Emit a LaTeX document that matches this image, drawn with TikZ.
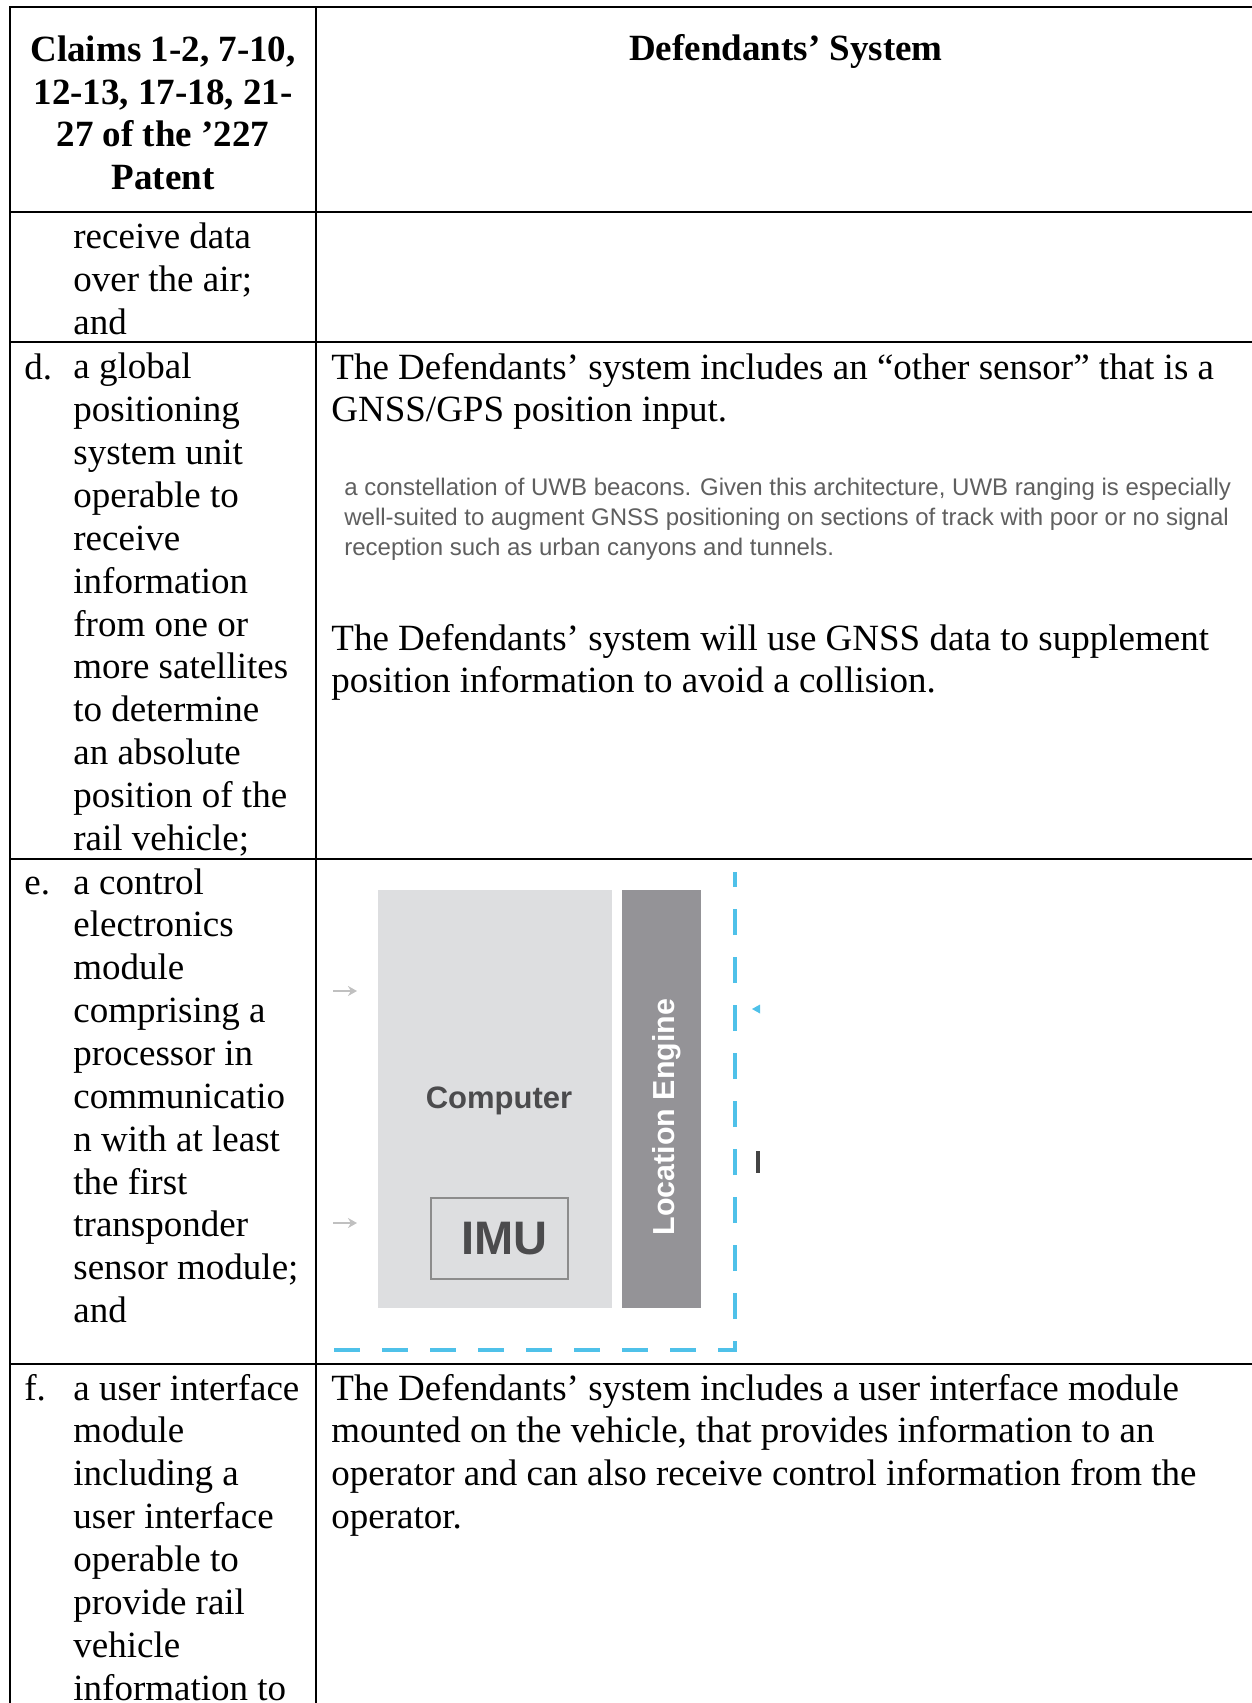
\documentclass[tikz,border=0pt]{standalone}
\usepackage{fontspec}
\setmainfont{Liberation Serif}
\newfontfamily\figfont{Liberation Sans}
\usetikzlibrary{arrows.meta,positioning}

\definecolor{cpugrey}{RGB}{221,222,224}
\definecolor{enginegrey}{RGB}{148,147,151}
\definecolor{imuedge}{RGB}{140,140,140}
\definecolor{figtext}{RGB}{75,75,77}
\definecolor{inarrow}{RGB}{192,192,192}
\definecolor{uwbblue}{RGB}{79,193,233}
\definecolor{shottext}{RGB}{95,95,95}
\definecolor{barink}{RGB}{68,68,68}

\newcommand{\bodysize}{\fontsize{18.5pt}{21.43pt}\selectfont}

\begin{document}
\begin{tikzpicture}[x=0.5pt,y=-0.5pt,
    rule/.style={line width=1.1pt},
    % multi-line nodes: placed at the baseline of their last line
    cell/.style={inner sep=0pt,anchor=base west,align=left,font=\bodysize},
    head/.style={inner sep=0pt,anchor=base,align=center,
      font=\fontsize{18.5pt}{21.2pt}\selectfont\bfseries},
    shot/.style={inner sep=0pt,anchor=base west,align=left,text=shottext,
      font=\figfont\fontsize{12pt}{15pt}\selectfont},
    fig/.style={inner sep=0pt,text=figtext,font=\figfont\bfseries},
    feed/.style={draw=inarrow,line width=1pt,-{Stealth[length=4.5pt,width=5pt]}},
    uwb/.style={draw=uwbblue,line width=2pt,dash pattern=on 13pt off 11pt}]
  \useasboundingbox (0,0) rectangle (1252,1703);

  % table rules
  \foreach \y in {7,212,342,859,1364}
    \draw[rule] (9,\y) -- (1252,\y);
  \draw[rule] (10,7) -- (10,1703);
  \draw[rule] (316,7) -- (316,1703);

  % header
  \node[head] (claimshd) at (163,189) {Claims 1-2, 7-10,\\12-13, 17-18, 21-\\27 of the ’227\\Patent};
  \node[head] (systemhd) at (786,60) {Defendants’ System};

  % element c (end)
  \node[cell] (rowc) at (73,334.7) {receive data\\over the air;\\and};

  % element d
  \node[cell] (labd) at (24,379) {d.};
  \node[cell] (rowd) at (73,850.4) {a global\\positioning\\system unit\\operable to\\receive\\information\\from one or\\more satellites\\to determine\\an absolute\\position of the\\rail vehicle;};
  \node[cell] (sysd) at (331,421.9) {The Defendants’ system includes an “other sensor” that is a\\GNSS/GPS position input.};
  \node[shot] (uwbshot) at (344,555) {a constellation of UWB beacons. Given this architecture, UWB ranging is especially\\well-suited to augment GNSS positioning on sections of track with poor or no signal\\reception such as urban canyons and tunnels.};
  \node[cell] (sysgnss) at (331,692.9) {The Defendants’ system will use GNSS data to supplement\\position information to avoid a collision.};

  % element e
  \node[cell] (labe) at (24,894) {e.};
  \node[cell] (rowe) at (73,1322.6) {a control\\electronics\\module\\comprising a\\processor in\\communicatio\\n with at least\\the first\\transponder\\sensor module;\\and};

  % architecture figure
  \node[fill=cpugrey,minimum width=117pt,minimum height=209pt,inner sep=0pt] (computer) at (495,1099) {};
  \node[fill=enginegrey,minimum width=39.5pt,minimum height=209pt,inner sep=0pt] (engine) at (661.5,1099) {};
  \node[fig,font=\figfont\bfseries\fontsize{15.5pt}{18pt}\selectfont] (cpulabel) at (499,1101) {Computer};
  \node[draw=imuedge,line width=1.3pt,fill=cpugrey,minimum width=68.5pt,minimum height=40.5pt,inner sep=0pt] (imu) at (499.5,1238.5) {};
  \node[fig,font=\figfont\bfseries\fontsize{23.5pt}{26pt}\selectfont] (imulabel) at (504.5,1238.5) {IMU};
  \node[fig,text=white,rotate=90,font=\figfont\bfseries\fontsize{15.2pt}{17pt}\selectfont] (enginelabel) at (667,1117) {Location Engine};

  \coordinate (feedAs) at (333,991);
  \coordinate (feedAe) at (357,991);
  \coordinate (feedBs) at (333,1223);
  \coordinate (feedBe) at (357,1223);
  \draw[feed] (feedAs) -- (feedAe);
  \draw[feed] (feedBs) -- (feedBe);

  \coordinate (uwbleft) at (334,1350);
  \coordinate (uwbcorner) at (735,1350);
  \coordinate (uwbtop) at (735,872);
  \draw[uwb] (uwbleft) -- (uwbcorner) -- (uwbtop);
  \fill[uwbblue] (752,1009) -- (760,1004.5) -- (760,1013.5) -- cycle;
  \draw[barink,line width=1.6pt] (758,1151) -- (758,1173);

  % element f
  \node[cell] (labf) at (24,1400) {f.};
  \node[cell] (rowf) at (73,1700) {a user interface\\module\\including a\\user interface\\operable to\\provide rail\\vehicle\\information to};
  \node[cell] (sysf) at (331,1528.6) {The Defendants’ system includes a user interface module\\mounted on the vehicle, that provides information to an\\operator and can also receive control information from the\\operator.};
\end{tikzpicture}
\end{document}
